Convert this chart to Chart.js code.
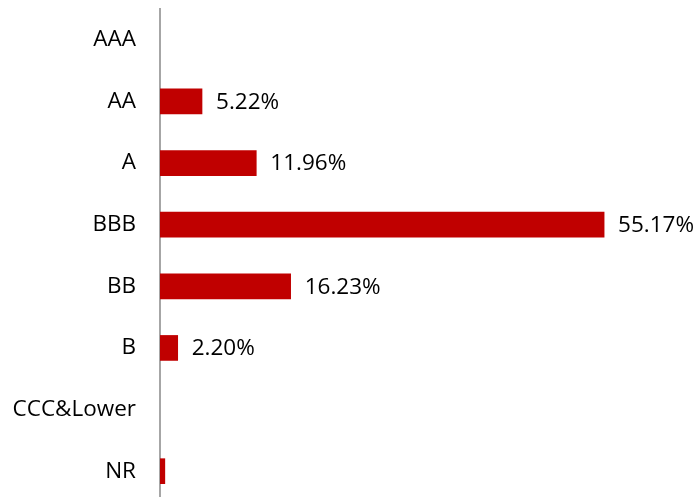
<!DOCTYPE html>
<html>
<head>
<meta charset="utf-8">
<script src="https://cdn.jsdelivr.net/npm/chart.js@4"></script>
<style>
  html, body { margin: 0; padding: 0; background: #fff; overflow: hidden; }
  canvas { display: block; }
</style>
</head>
<body>
<canvas id="chart" width="699" height="502"></canvas>
<script>
'use strict';

// 등급별 비중 (%)
const ratings = ['AAA', 'AA', 'A', 'BBB', 'BB', 'B', 'CCC&Lower', 'NR'];
const weights = [null, 5.22, 11.96, 55.17, 16.23, 2.20, null, 0.6];
const valueLabels = ['', '5.22%', '11.96%', '55.17%', '16.23%', '2.20%', '', ''];

const fontFamily = '"Open Sans", "Noto Sans", sans-serif';
const fontSize = 22.5;

// 막대 끝에 값 표시
const barValuePlugin = {
    id: 'barValues',
    afterDatasetsDraw(chart) {
        const ctx = chart.ctx;
        const meta = chart.getDatasetMeta(0);
        ctx.save();
        ctx.font = fontSize + 'px ' + fontFamily;
        ctx.fillStyle = '#000';
        ctx.textBaseline = 'middle';
        ctx.textAlign = 'left';
        meta.data.forEach((bar, i) => {
            if (!valueLabels[i]) return;
            ctx.fillText(valueLabels[i], bar.x + 14, bar.y + 1);
        });
        ctx.restore();
    }
};

new Chart(document.getElementById('chart').getContext('2d'), {
    type: 'bar',
    data: {
        labels: ratings,
        datasets: [{
            data: weights,
            backgroundColor: '#c00000',
            barThickness: 25
        }]
    },
    options: {
        indexAxis: 'y',
        responsive: false,
        animation: false,
        layout: { padding: { top: 9, right: 56, bottom: 0, left: 0 } },
        plugins: { legend: { display: false }, tooltip: { enabled: false } },
        scales: {
            x: { display: false, min: 0, max: 60 },
            y: {
                afterFit(scale) {
                    scale.width = 160;
                    scale.paddingTop = 0;
                    scale.paddingBottom = 0;
                },
                grid: { display: false, drawTicks: false },
                border: { color: '#a6a6a6', width: 2 },
                ticks: {
                    padding: 24,
                    color: '#000',
                    font: { family: fontFamily, size: fontSize }
                }
            }
        }
    },
    plugins: [barValuePlugin]
});
</script>
</body>
</html>
